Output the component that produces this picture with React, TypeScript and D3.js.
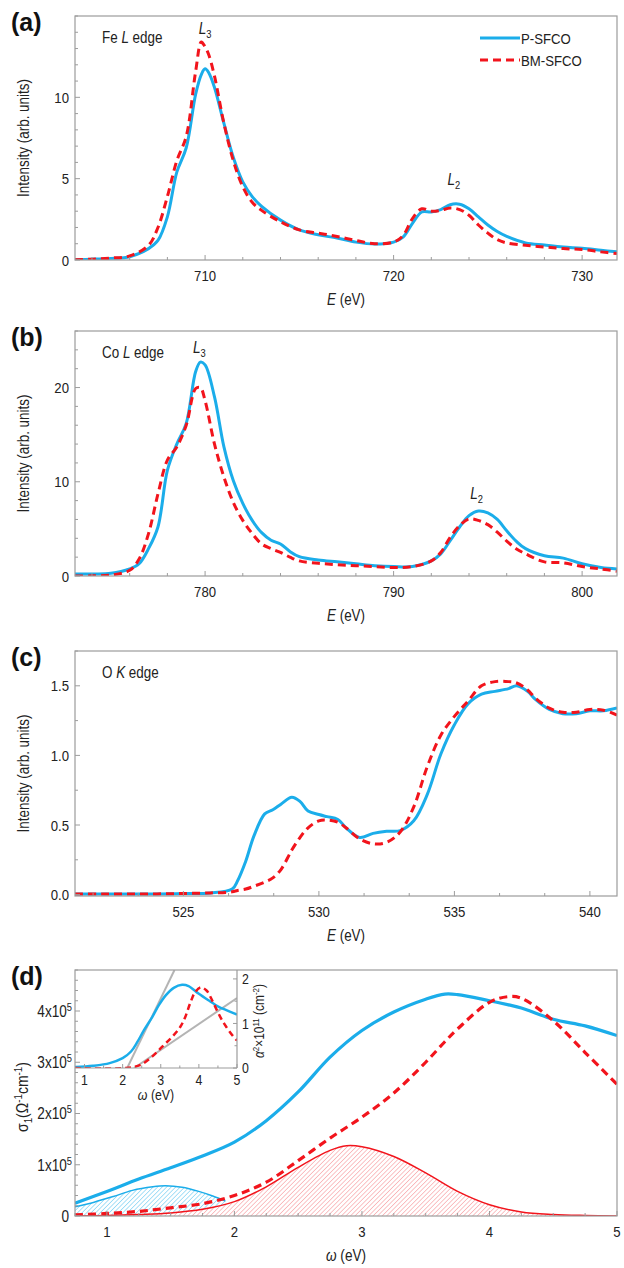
import React from 'react';
import * as d3 from 'd3';

// ---------- (a) Fe L edge ----------
const feE = [703.1, 704, 705, 706, 707, 707.5, 708, 708.5, 709, 709.5, 709.8, 710, 710.2, 710.5, 711, 711.5, 712, 712.5, 713, 714, 715, 716, 717, 718, 719, 720, 720.5, 721, 721.5, 722, 722.5, 723, 723.5, 724, 724.5, 725, 725.5, 726, 727, 728, 729, 730, 731, 731.85];
const feP = [0.02, 0.05, 0.1, 0.2, 0.7, 1.2, 2.65, 5.4, 6.9, 10.2, 11.4, 11.75, 11.5, 10.6, 8.4, 6.3, 4.8, 3.9, 3.3, 2.45, 1.85, 1.55, 1.35, 1.1, 0.98, 1.1, 1.4, 2.25, 2.95, 2.95, 3.1, 3.4, 3.43, 3.15, 2.65, 2.15, 1.75, 1.45, 1.05, 0.92, 0.8, 0.72, 0.6, 0.5];
const feBM = [0.02, 0.05, 0.12, 0.25, 0.9, 2.0, 3.9, 6.1, 7.6, 11.6, 13.4, 13.1, 12.6, 11.3, 8.4, 6.1, 4.5, 3.55, 3.05, 2.35, 1.85, 1.65, 1.45, 1.2, 1.0, 1.1, 1.5, 2.55, 3.15, 3.0, 3.05, 3.2, 3.1, 2.75, 2.15, 1.65, 1.25, 1.05, 0.9, 0.8, 0.7, 0.65, 0.5, 0.4];
const feYTicks = [0, 5, 10];
const feXTicks = [710, 720, 730];

// ---------- (b) Co L edge ----------
const coE = [773.1, 774, 775, 776, 776.5, 777, 777.5, 778, 778.5, 779, 779.5, 779.75, 780, 780.5, 781, 781.5, 782, 782.5, 783, 783.5, 784, 784.5, 785, 786, 787, 788, 789, 790, 791, 792, 792.5, 793, 793.5, 794, 794.5, 795, 795.5, 796, 796.5, 797, 798, 799, 800, 801, 801.85];
const coP = [0.2, 0.22, 0.28, 0.75, 1.3, 2.9, 5.2, 11.2, 14.0, 16.2, 21.7, 22.7, 22.4, 19.0, 13.7, 10.1, 7.7, 5.9, 4.6, 3.8, 3.4, 2.6, 2.05, 1.7, 1.5, 1.3, 1.1, 1.0, 1.0, 1.6, 2.35, 3.75, 5.2, 6.4, 6.9, 6.7, 6.0, 4.8, 3.7, 2.9, 2.15, 1.9, 1.3, 0.9, 0.75];
const coBM = [0, 0.02, 0.1, 0.6, 1.8, 4.5, 8.7, 12.3, 13.7, 16.0, 19.9, 20.0, 18.6, 14.0, 10.5, 7.8, 5.9, 4.5, 3.4, 2.9, 2.5, 2.0, 1.6, 1.35, 1.2, 1.1, 1.0, 0.9, 1.0, 1.6, 2.5, 4.1, 5.35, 6.05, 5.9, 5.45, 4.65, 3.7, 2.9, 2.35, 1.5, 1.4, 1.0, 0.75, 0.5];
const coYTicks = [0, 10, 20];
const coXTicks = [780, 790, 800];

// ---------- (c) O K edge ----------
const oE = [521, 522, 523, 524, 525, 526, 526.8, 527, 527.3, 527.6, 528, 528.3, 528.6, 529, 529.3, 529.6, 530, 530.3, 530.7, 531, 531.5, 532, 532.5, 533, 533.5, 534, 534.5, 535, 535.5, 536, 536.5, 537, 537.3, 537.7, 538, 538.5, 539, 539.5, 540, 540.5, 541];
const oP = [0.005, 0.005, 0.005, 0.005, 0.008, 0.012, 0.04, 0.1, 0.24, 0.42, 0.58, 0.61, 0.65, 0.7, 0.67, 0.6, 0.575, 0.56, 0.54, 0.48, 0.41, 0.44, 0.455, 0.46, 0.53, 0.72, 1.01, 1.22, 1.37, 1.44, 1.46, 1.48, 1.5, 1.46, 1.4, 1.33, 1.3, 1.3, 1.32, 1.32, 1.34];
const oBM = [0.005, 0.005, 0.005, 0.005, 0.008, 0.012, 0.02, 0.03, 0.04, 0.06, 0.09, 0.12, 0.18, 0.32, 0.41, 0.48, 0.53, 0.535, 0.52, 0.48, 0.4, 0.365, 0.375, 0.45, 0.63, 0.92, 1.145, 1.28, 1.39, 1.5, 1.53, 1.53, 1.52, 1.47, 1.41, 1.34, 1.31, 1.31, 1.33, 1.325, 1.29];
const oYTicks = [0, 0.5, 1.0, 1.5];
const oXTicks = [525, 530, 535, 540];

// ---------- (d) optical conductivity, sigma1 in 1e5 Ohm^-1 cm^-1 ----------
const omega = [0.75, 1.0, 1.25, 1.5, 1.75, 2.0, 2.25, 2.5, 2.75, 3.0, 3.25, 3.5, 3.65, 3.75, 4.0, 4.15, 4.25, 4.5, 4.75, 5.0];
const sigP = [0.25, 0.48, 0.72, 0.94, 1.17, 1.44, 1.86, 2.42, 3.1, 3.62, 3.98, 4.23, 4.33, 4.32, 4.2, 4.12, 4.06, 3.84, 3.71, 3.52];
const sigBM = [0.02, 0.05, 0.09, 0.16, 0.24, 0.4, 0.66, 1.08, 1.52, 1.93, 2.4, 3.0, 3.4, 3.65, 4.17, 4.28, 4.25, 3.81, 3.19, 2.57];
const gaussBlueW = [0.75, 0.9, 1.05, 1.2, 1.36, 1.46, 1.59, 1.72, 1.83, 1.93];
const gaussBlueV = [0.18, 0.27, 0.38, 0.5, 0.57, 0.59, 0.56, 0.48, 0.39, 0.29];
const gaussRedW = [0.75, 1.0, 1.25, 1.5, 1.75, 2.0, 2.25, 2.5, 2.75, 2.88, 3.0, 3.25, 3.5, 3.75, 4.0, 4.25, 4.5, 4.75, 5.0];
const gaussRedV = [0.0, 0.01, 0.03, 0.06, 0.13, 0.28, 0.57, 0.95, 1.28, 1.37, 1.35, 1.16, 0.84, 0.48, 0.22, 0.08, 0.03, 0.01, 0.0];
const sigYTicks = [0, 1, 2, 3, 4];
const sigXTicks = [1, 2, 3, 4, 5];

// inset: alpha^2 x 1e11 cm^-2
const insetPW = [0.75, 1.22, 1.66, 2.0, 2.22, 2.39, 2.56, 2.78, 2.95, 3.13, 3.34, 3.56, 3.73, 3.99, 4.25, 4.51, 4.72, 4.94, 5.0];
const insetP = [0.02, 0.05, 0.11, 0.22, 0.37, 0.59, 0.85, 1.15, 1.41, 1.63, 1.8, 1.87, 1.84, 1.67, 1.52, 1.38, 1.3, 1.22, 1.2];
const insetBMW = [0.75, 2.09, 2.47, 2.78, 3.04, 3.3, 3.51, 3.64, 3.77, 3.9, 4.05, 4.2, 4.37, 4.54, 4.72, 4.94, 5.0];
const insetBM = [0, 0, 0.07, 0.26, 0.48, 0.7, 0.92, 1.14, 1.45, 1.7, 1.81, 1.74, 1.48, 1.18, 0.92, 0.67, 0.62];
const fitSteep = [[2.12, 0], [3.36, 2.2]];
const fitShallow = [[2.3, 0], [5.0, 1.57]];
const insetXTicks = [1, 2, 3, 4, 5];
const insetYTicks = [0, 1, 2];

const SANS = "'Liberation Sans', Arial, sans-serif";
const BLUE = '#1badea';
const RED = '#f2141c';
const FRAME = '#9c9c9c';
const TXT = '#222';
const SQUEEZE = 0.85;
const L = 75;
const R = 617;

type Pt = [number, number];
const zip = (xs: number[], ys: number[]): Pt[] => xs.map((x, i) => [x, ys[i]] as Pt);

// narrow text: Liberation Sans squeezed horizontally, like Arial Narrow
function NT({ x, y, rot, anchor, size = 15.5, dy, italic, children }: any) {
  const tr = `translate(${x},${y})${rot ? ` rotate(${rot})` : ''} scale(${SQUEEZE},1)`;
  return (
    <text transform={tr} textAnchor={anchor} fontSize={size} dy={dy} fontStyle={italic ? 'italic' : undefined}
      fontFamily={SANS} fill={TXT}>
      {children}
    </text>
  );
}

function Ticks({ x, y, bottom, xMajor, xMinor, yMajor, yMinor, left = L }: any) {
  const near = (arr: number[], v: number) => arr.some(a => Math.abs(a - v) < 1e-6);
  return (
    <g stroke={FRAME} strokeWidth={1}>
      {xMinor.filter((v: number) => !near(xMajor, v)).map((v: number) => (
        <line key={'xm' + v} x1={x(v)} x2={x(v)} y1={bottom} y2={bottom - 3} />
      ))}
      {xMajor.map((v: number) => (
        <line key={'xM' + v} x1={x(v)} x2={x(v)} y1={bottom} y2={bottom - 5} />
      ))}
      {yMinor.filter((v: number) => !near(yMajor, v)).map((v: number) => (
        <line key={'ym' + v} x1={left} x2={left + 3} y1={y(v)} y2={y(v)} />
      ))}
      {yMajor.map((v: number) => (
        <line key={'yM' + v} x1={left} x2={left + 5} y1={y(v)} y2={y(v)} />
      ))}
    </g>
  );
}

function Spectrum({ tag, top, bottom, xDomain, yDomain, xTicks, xMinor, yTicks, yMinor, fmtY, E, P, BM, edge, marks, legend }: any) {
  const x = d3.scaleLinear().domain(xDomain).range([L, R]);
  const y = d3.scaleLinear().domain(yDomain).range([bottom, top]);
  const line = d3.line<Pt>().x(d => x(d[0])).y(d => y(d[1])).curve(d3.curveCatmullRom.alpha(0.5));
  const clipId = 'clip-' + tag;
  return (
    <g>
      <defs>
        <clipPath id={clipId}>
          <rect x={L} y={top} width={R - L} height={bottom - top} />
        </clipPath>
      </defs>
      <g clipPath={`url(#${clipId})`} fill="none">
        <path d={line(zip(E, P)) || ''} stroke={BLUE} strokeWidth={3} />
        <path d={line(zip(E, BM)) || ''} stroke={RED} strokeWidth={3} strokeDasharray="8 5" />
      </g>
      <rect x={L} y={top} width={R - L} height={bottom - top} fill="none" stroke={FRAME} strokeWidth={1.2} />
      <Ticks x={x} y={y} bottom={bottom} xMajor={xTicks} xMinor={xMinor} yMajor={yTicks} yMinor={yMinor} />
      {xTicks.map((v: number) => (
        <NT key={'xl' + v} x={x(v)} y={bottom + 21} anchor="middle" size={15.5}>{v}</NT>
      ))}
      {yTicks.map((v: number) => (
        <NT key={'yl' + v} x={L - 6} y={y(v)} dy="0.36em" anchor="end" size={15.5}>{fmtY(v)}</NT>
      ))}
      <NT x={29} y={(top + bottom) / 2} rot={-90} anchor="middle" size={15.8}>Intensity (arb. units)</NT>
      <NT x={(L + R) / 2} y={bottom + 45} anchor="middle" size={15.8}>
        <tspan fontStyle="italic">E</tspan> (eV)
      </NT>
      <NT x={102} y={top + 27} size={15.8}>{edge}</NT>
      {marks.map((m: any) => (
        <NT key={m.label} x={x(m.x)} y={y(m.y)} anchor="middle" size={16}>
          <tspan fontStyle="italic">L</tspan>
          <tspan fontSize={11} dy={4}>{m.label}</tspan>
        </NT>
      ))}
      <text x={11} y={top + 15} fontFamily={SANS} fontWeight="bold" fontSize={25} fill="#111">({tag})</text>
      {legend && (
        <g>
          <line x1={480} x2={520} y1={top + 22} y2={top + 22} stroke={BLUE} strokeWidth={3} />
          <NT x={521} y={top + 28} size={15.5}>P-SFCO</NT>
          <line x1={480} x2={520} y1={top + 44} y2={top + 44} stroke={RED} strokeWidth={3} strokeDasharray="8 5" />
          <NT x={521} y={top + 50} size={15.5}>BM-SFCO</NT>
        </g>
      )}
    </g>
  );
}

function Conductivity() {
  const top = 970;
  const bottom = 1216;
  const x = d3.scaleLinear().domain([0.75, 5]).range([L, R]);
  const y = d3.scaleLinear().domain([0, 4.8]).range([bottom, top]);
  const curve = d3.curveCatmullRom.alpha(0.5);
  const line = d3.line<Pt>().x(d => x(d[0])).y(d => y(d[1])).curve(curve);
  const area = d3.area<Pt>().x(d => x(d[0])).y0(y(0)).y1(d => y(d[1])).curve(curve);

  const iTop = top;
  const iBottom = 1068;
  const iRight = 237;
  const ix = d3.scaleLinear().domain([0.75, 5]).range([L, iRight]);
  const iy = d3.scaleLinear().domain([0, 2.2]).range([iBottom, iTop]);
  const iline = d3.line<Pt>().x(d => ix(d[0])).y(d => iy(d[1])).curve(curve);
  const straight = d3.line<Pt>().x(d => ix(d[0])).y(d => iy(d[1]));

  return (
    <g>
      <defs>
        <clipPath id="clip-d">
          <rect x={L} y={top} width={R - L} height={bottom - top} />
        </clipPath>
        <clipPath id="clip-inset">
          <rect x={L} y={iTop} width={iRight - L} height={iBottom - iTop} />
        </clipPath>
        <pattern id="hatch-blue" width={3.2} height={3.2} patternUnits="userSpaceOnUse" patternTransform="rotate(45)">
          <rect width={3.2} height={3.2} fill="#fff" />
          <line x1={0} y1={0} x2={0} y2={3.2} stroke={BLUE} strokeWidth={1} opacity={0.75} />
        </pattern>
        <pattern id="hatch-red" width={3.2} height={3.2} patternUnits="userSpaceOnUse" patternTransform="rotate(45)">
          <rect width={3.2} height={3.2} fill="#fff" />
          <line x1={0} y1={0} x2={0} y2={3.2} stroke="#f0464c" strokeWidth={1} opacity={0.65} />
        </pattern>
      </defs>

      <g clipPath="url(#clip-d)">
        <path d={area(zip(gaussBlueW, gaussBlueV)) || ''} fill="url(#hatch-blue)" />
        <path d={line(zip(gaussBlueW, gaussBlueV)) || ''} fill="none" stroke={BLUE} strokeWidth={1.5} />
        <path d={area(zip(gaussRedW, gaussRedV)) || ''} fill="url(#hatch-red)" />
        <path d={line(zip(gaussRedW, gaussRedV)) || ''} fill="none" stroke={RED} strokeWidth={1.5} />
        <path d={line(zip(omega, sigP)) || ''} fill="none" stroke={BLUE} strokeWidth={3.2} />
        <path d={line(zip(omega, sigBM)) || ''} fill="none" stroke={RED} strokeWidth={3.2} strokeDasharray="8 5" />
      </g>

      {/* inset */}
      <rect x={L} y={iTop} width={iRight - L} height={iBottom - iTop} fill="#fff" />
      <g clipPath="url(#clip-inset)" fill="none">
        <path d={straight(fitSteep as Pt[]) || ''} stroke="#b4b4b4" strokeWidth={2} />
        <path d={straight(fitShallow as Pt[]) || ''} stroke="#b4b4b4" strokeWidth={2} />
        <path d={iline(zip(insetPW, insetP)) || ''} stroke={BLUE} strokeWidth={2.5} />
        <path d={iline(zip(insetBMW, insetBM)) || ''} stroke={RED} strokeWidth={2.5} strokeDasharray="6 4" />
      </g>
      <g stroke={FRAME} strokeWidth={1.2}>
        <line x1={L} x2={iRight} y1={iBottom} y2={iBottom} />
        <line x1={iRight} x2={iRight} y1={iTop} y2={iBottom} />
      </g>
      <g stroke={FRAME} strokeWidth={1}>
        {d3.range(1, 5.01, 0.5).map(v => (
          <line key={'ix' + v} x1={ix(v)} x2={ix(v)} y1={iBottom} y2={iBottom - (Number.isInteger(v) ? 4 : 2.5)} />
        ))}
        {d3.range(0, 2.21, 0.5).map(v => (
          <line key={'iy' + v} x1={iRight} x2={iRight - (Number.isInteger(v) ? 4 : 2.5)} y1={iy(v)} y2={iy(v)} />
        ))}
      </g>
      {insetXTicks.map(v => (
        <NT key={'ixl' + v} x={ix(v)} y={iBottom + 17} anchor="middle" size={14.5}>{v}</NT>
      ))}
      {insetYTicks.map(v => (
        <NT key={'iyl' + v} x={iRight + 5} y={iy(v)} dy="0.36em" size={14.5}>{v}</NT>
      ))}
      <NT x={(L + iRight) / 2} y={iBottom + 32} anchor="middle" size={14.5}>
        <tspan fontStyle="italic">ω</tspan> (eV)
      </NT>
      <NT x={264} y={(iTop + iBottom) / 2 + 2} rot={-90} anchor="middle" size={14}>
        <tspan fontStyle="italic">α</tspan>
        <tspan fontSize={9.5} dy={-5}>2</tspan>
        <tspan dy={5}>×10</tspan>
        <tspan fontSize={9.5} dy={-5}>11</tspan>
        <tspan dy={5}> (cm</tspan>
        <tspan fontSize={9.5} dy={-5}>-2</tspan>
        <tspan dy={5}>)</tspan>
      </NT>

      <rect x={L} y={top} width={R - L} height={bottom - top} fill="none" stroke={FRAME} strokeWidth={1.2} />
      <Ticks x={x} y={y} bottom={bottom} xMajor={sigXTicks} xMinor={d3.range(0.75, 5.01, 0.25)} yMajor={sigYTicks} yMinor={d3.range(0, 4.81, 0.2)} />
      {sigXTicks.map(v => (
        <NT key={'sx' + v} x={x(v)} y={bottom + 21} anchor="middle" size={15.5}>{v}</NT>
      ))}
      {sigYTicks.map(v => (
        <NT key={'sy' + v} x={v === 0 ? L - 6 : L - 3} y={y(v)} dy="0.36em" anchor="end" size={16}>
          {v === 0 ? '0' : (
            <>
              <tspan>{v}x10</tspan>
              <tspan fontSize={11} dy={-6}>5</tspan>
            </>
          )}
        </NT>
      ))}
      <NT x={28} y={1097} rot={-90} anchor="middle" size={16.5}>
        <tspan>σ</tspan>
        <tspan fontSize={11.5} dy={4}>1</tspan>
        <tspan dy={-4}>(Ω</tspan>
        <tspan fontSize={11.5} dy={-6}>-1</tspan>
        <tspan dy={6}>cm</tspan>
        <tspan fontSize={11.5} dy={-6}>-1</tspan>
        <tspan dy={6}>)</tspan>
      </NT>
      <NT x={(L + R) / 2} y={bottom + 45} anchor="middle" size={16}>
        <tspan fontStyle="italic">ω</tspan> (eV)
      </NT>
      <text x={11} y={top + 15} fontFamily={SANS} fontWeight="bold" fontSize={25} fill="#111">(d)</text>
    </g>
  );
}

export default function App() {
  const f0 = d3.format('d');
  const f1 = d3.format('.1f');
  return (
    <svg width={624} height={1268} style={{ position: 'absolute', left: 0, top: 0, background: '#fff' }}>
      <Spectrum
        tag="a" top={16} bottom={260}
        xDomain={[703.1, 731.85]} yDomain={[0, 15]}
        xTicks={feXTicks} xMinor={d3.range(704, 732, 2)}
        yTicks={feYTicks} yMinor={d3.range(0, 15.01, 1)} fmtY={f0}
        E={feE} P={feP} BM={feBM}
        edge={<>Fe <tspan fontStyle="italic">L</tspan> edge</>}
        marks={[{ label: '3', x: 710, y: 13.9 }, { label: '2', x: 723.2, y: 4.6 }]}
        legend
      />
      <Spectrum
        tag="b" top={331} bottom={576}
        xDomain={[773.1, 801.85]} yDomain={[0, 26]}
        xTicks={coXTicks} xMinor={d3.range(774, 802, 2)}
        yTicks={coYTicks} yMinor={d3.range(0, 26.01, 2)} fmtY={f0}
        E={coE} P={coP} BM={coBM}
        edge={<>Co <tspan fontStyle="italic">L</tspan> edge</>}
        marks={[{ label: '3', x: 779.7, y: 23.7 }, { label: '2', x: 794.4, y: 8.2 }]}
      />
      <Spectrum
        tag="c" top={651} bottom={896}
        xDomain={[521, 541]} yDomain={[-0.01, 1.75]}
        xTicks={oXTicks} xMinor={d3.range(-2, 10).map(k => 525 + (k * 5) / 3).filter(v => v > 521 && v < 541)}
        yTicks={oYTicks} yMinor={d3.range(0, 1.751, 0.25)} fmtY={f1}
        E={oE} P={oP} BM={oBM}
        edge={<>O <tspan fontStyle="italic">K</tspan> edge</>}
        marks={[]}
      />
      <Conductivity />
    </svg>
  );
}
